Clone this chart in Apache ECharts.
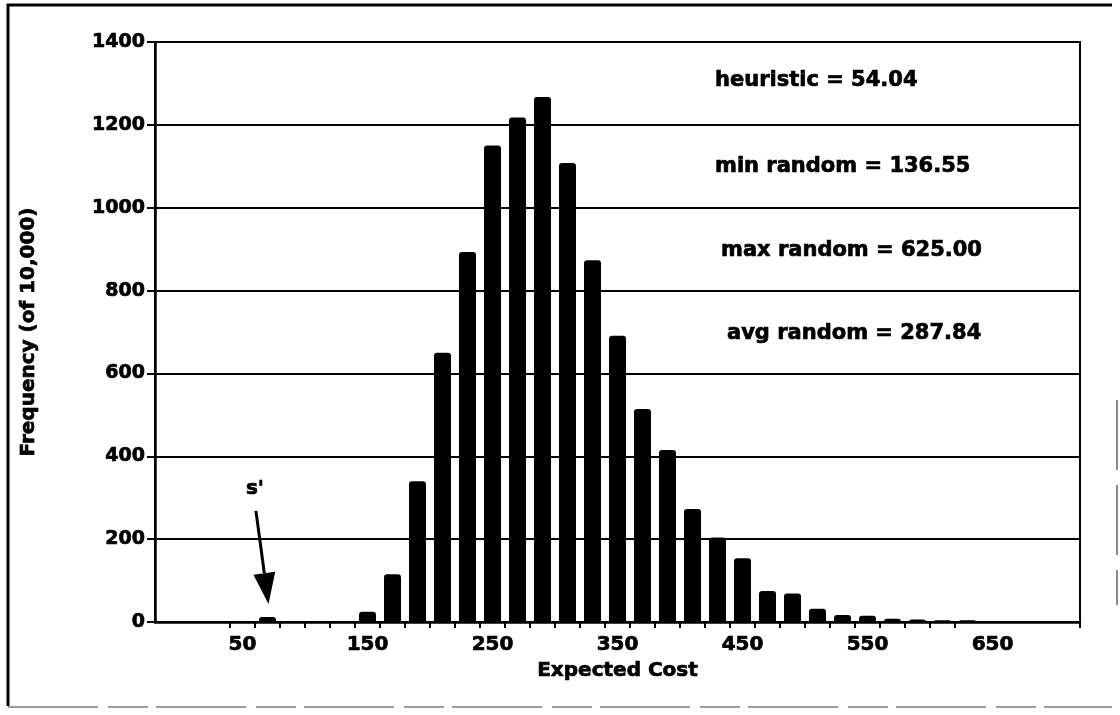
<!DOCTYPE html>
<html>
<head>
<meta charset="utf-8">
<title>Expected Cost Distribution</title>
<script src="https://cdn.jsdelivr.net/npm/echarts@6/dist/echarts.min.js"></script>
<style>
  html, body { margin: 0; padding: 0; background: #fff; }
  #chart { width: 1120px; height: 715px; }
</style>
</head>
<body>
<div id="chart"></div>
<script>
// Histogram bins, labelled by the upper bound of each 20-wide bin
const binUpper = [-10, 10, 30, 50, 70, 90, 110, 130, 150, 170, 190, 210, 230, 250, 270, 290,
  310, 330, 350, 370, 390, 410, 430, 450, 470, 490, 510, 530, 550, 570, 590, 610, 630, 650,
  670, 690, 710];

// Frequency of each bin out of 10,000 samples
const frequency = [0, 0, 0, 0, 12, 0, 0, 0, 25, 115, 340, 650, 893, 1150, 1218, 1267,
  1108, 873, 691, 514, 415, 273, 204, 154, 75, 69, 32, 17, 15, 8, 6, 4, 4, 0,
  0, 0, 0];

// Bin that holds the heuristic solution s'
const heuristicBin = 4;

// Summary statistics shown in the plot
const statLines = [
  'heuristic = 54.04',
  'min random = 136.55',
  'max random = 625.00',
  'avg random = 287.84'
];

const yTicks = { min: 0, max: 1400, step: 200 };

const FONT = '"DejaVu Sans", "Liberation Sans", sans-serif';
const INK = '#000';
// a thin outline thickens the bold glyphs a little
const heavy = { textBorderColor: INK, textBorderWidth: 0.7 };

const chart = echarts.init(document.getElementById('chart'), null, { renderer: 'canvas' });

const option = {
  animation: false,
  backgroundColor: '#fff',
  grid: {
    left: 155, right: 40, top: 42, bottom: 93,
    show: true, borderColor: INK, borderWidth: 2, backgroundColor: 'transparent'
  },
  xAxis: {
    type: 'category',
    data: binUpper.map(String),
    name: 'Expected Cost',
    nameLocation: 'middle',
    nameGap: 36,
    nameTextStyle: Object.assign({ color: INK, fontFamily: FONT, fontWeight: 'bold', fontSize: 20 }, heavy),
    axisLine: { lineStyle: { color: INK, width: 2.5 } },
    axisTick: {
      show: true, inside: false, length: 6,
      lineStyle: { color: INK, width: 2 },
      interval: (idx) => idx >= 3 && idx <= 32
    },
    axisLabel: Object.assign({
      color: INK, fontFamily: FONT, fontWeight: 'bold', fontSize: 20, margin: 13,
      interval: (idx) => idx % 5 === 3
    }, heavy),
    splitLine: { show: false }
  },
  yAxis: {
    type: 'value',
    min: yTicks.min, max: yTicks.max, interval: yTicks.step,
    name: 'Frequency (of 10,000)',
    nameLocation: 'middle',
    nameGap: 116,
    nameRotate: 90,
    nameTextStyle: Object.assign({ color: INK, fontFamily: FONT, fontWeight: 'bold', fontSize: 20 }, heavy),
    axisLine: { show: true, lineStyle: { color: INK, width: 2.5 } },
    axisTick: { show: true, inside: false, length: 8, lineStyle: { color: INK, width: 2 } },
    axisLabel: Object.assign({
      color: INK, fontFamily: FONT, fontWeight: 'bold', fontSize: 19, margin: 10,
      formatter: (v) => String(v)
    }, heavy),
    splitLine: { show: true, lineStyle: { color: INK, width: 2 } }
  },
  series: [{
    type: 'bar',
    data: frequency,
    barWidth: 17,
    itemStyle: { color: INK, borderRadius: [3, 3, 0, 0] },
    silent: true
  }]
};

chart.setOption(option);

// Annotations: the statistics block, the s' arrow and the outer frame
const graphics = [];

const statPos = [
  { x: 715, y: 81 },
  { x: 715, y: 167 },
  { x: 721, y: 251 },
  { x: 727, y: 334 }
];
statLines.forEach((t, i) => {
  graphics.push({
    type: 'text',
    x: statPos[i].x, y: statPos[i].y,
    style: {
      text: t, fill: INK, stroke: INK, lineWidth: 0.7,
      font: 'bold 21px ' + FONT,
      align: 'left', verticalAlign: 'middle'
    },
    z: 10
  });
});

// Arrow pointing at the heuristic bin, placed from the bar's own pixel position
const barTop = chart.convertToPixel({ xAxisIndex: 0, yAxisIndex: 0 },
  [heuristicBin, frequency[heuristicBin]]);
const tip = [barTop[0] + 1, barTop[1] - 13];
const dir = [0.134, 0.991];
const nrm = [0.991, -0.134];
const tail = [tip[0] - dir[0] * 94, tip[1] - dir[1] * 94];
const headLen = 31, headHalf = 11;
const base = [tip[0] - dir[0] * headLen, tip[1] - dir[1] * headLen];

graphics.push({
  type: 'line',
  shape: { x1: tail[0], y1: tail[1], x2: base[0], y2: base[1] },
  style: { stroke: INK, lineWidth: 3 },
  z: 10
});
graphics.push({
  type: 'polygon',
  shape: {
    points: [
      tip,
      [base[0] + nrm[0] * headHalf, base[1] + nrm[1] * headHalf],
      [base[0] - nrm[0] * headHalf, base[1] - nrm[1] * headHalf]
    ]
  },
  style: { fill: INK },
  z: 10
});
graphics.push({
  type: 'text',
  x: tail[0] - 1, y: tail[1] - 22,
  style: {
    text: "s'", fill: INK, stroke: INK, lineWidth: 0.7,
    font: 'bold 20px ' + FONT,
    align: 'center', verticalAlign: 'middle'
  },
  z: 10
});

// Outer frame around the whole figure
graphics.push({
  type: 'polyline',
  shape: { points: [[8, 706], [8, 5], [1112, 5]] },
  style: { stroke: INK, lineWidth: 3, fill: null },
  z: 1
});
graphics.push({
  type: 'line',
  shape: { x1: 8, y1: 707, x2: 1112, y2: 707 },
  style: { stroke: '#9a9a9a', lineWidth: 2, lineDash: [90, 10, 40, 8] },
  z: 1
});
graphics.push({
  type: 'line',
  shape: { x1: 1117, y1: 400, x2: 1117, y2: 605 },
  style: { stroke: '#8a8a8a', lineWidth: 2, lineDash: [70, 15] },
  z: 1
});

chart.setOption({ graphic: graphics });
</script>
</body>
</html>
